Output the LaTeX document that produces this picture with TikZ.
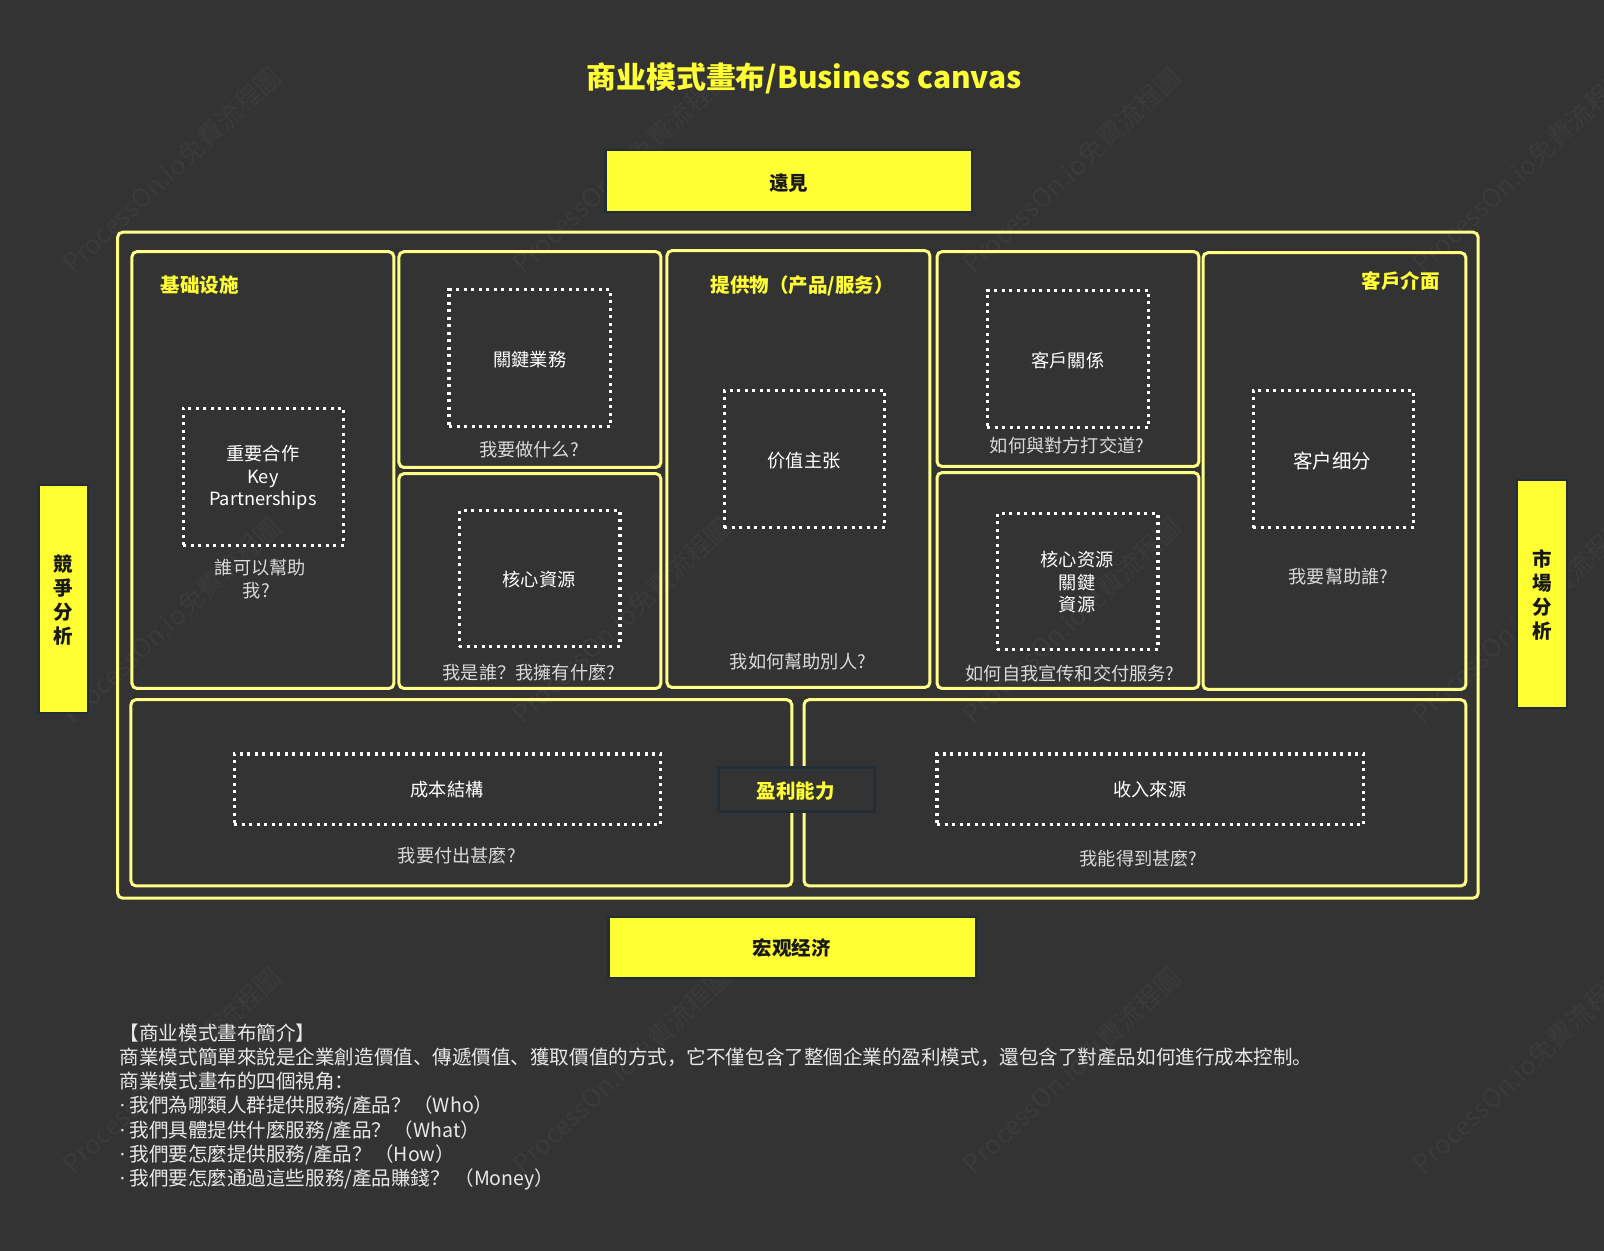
\documentclass[tikz,border=0pt]{standalone}
\usepackage{fontspec}
\setmainfont{Noto Sans CJK SC}
\newfontfamily\latfont{Open Sans}
\definecolor{bgc}{HTML}{333333}
\definecolor{framec}{HTML}{FFFF88}
\definecolor{yel}{HTML}{FFFF33}
\definecolor{edgec}{HTML}{232D36}
\definecolor{wmc}{HTML}{3B3B3B}
\definecolor{qc}{HTML}{DADADA}
\definecolor{introc}{HTML}{E8E8E8}
\newcommand{\fs}[1]{\fontsize{#1pt}{22.5pt}\selectfont}
\newcommand{\bx}[6]{%
  \pgfmathsetmacro\myw{(#5-#3)*1.02296}%
  \pgfmathsetmacro\myh{(#6-#4)*1.02296}%
  \node[#1,minimum width=\myw pt,minimum height=\myh pt] (#2) at ({(#3+#5)/2},{(#4+#6)/2}) {};}
\newcommand{\dotdata}[1]{{\latfont·}\hspace{4.5pt}#1}
\tikzset{
  x=1.02296pt,y=-1.02296pt,
  frameb/.style={draw=framec,line width=3pt,rounded corners=5pt,inner sep=0pt,outer sep=0pt},
  dotb/.style={draw=white,line width=3.2pt,dash pattern=on 3pt off 4.5pt,inner sep=0pt,outer sep=0pt},
  yelb/.style={draw=edgec,line width=2.5pt,fill=yel,inner sep=0pt,outer sep=0pt},
  profitb/.style={draw=edgec,line width=3pt,fill=bgc,inner sep=0pt,outer sep=0pt},
  inlab/.style={text=white,align=center,inner sep=0pt,font=\fs{18.2}},
  blab/.style={text=black!90,align=center,inner sep=0pt,font=\fs{19.5}\bfseries},
  qlab/.style={text=qc,align=center,inner sep=0pt,font=\fs{18.2}},
  hlab/.style={text=yel,inner sep=0pt,font=\fs{19.5}\bfseries},
  wmark/.style={text=wmc,rotate=43,inner sep=0pt,font=\fs{25.8}},
}
\begin{document}
\begin{tikzpicture}
\fill[bgc] (0,0) rectangle (1568,1222.9);
\useasboundingbox (0,0) rectangle (1568,1222.9);
% watermarks
\foreach \i in {0,1,2,3}{\foreach \j in {0,1,2}{
  \node[wmark] (wm\i\j) at ({167.6+440*\i},{166.2+440*\j}) {ProcessOn.io免費流程圖};
}}
\node[text=yel,inner sep=0pt,font=\fs{29.9}\bfseries] (title) at (786,77) {商业模式畫布/Business canvas};
\bx{yelb}{top}{592}{146.5}{950}{207}
\bx{yelb}{bottom}{595}{896.5}{954}{956}
\bx{yelb}{left}{37.5}{474}{86}{697}
\bx{yelb}{right}{1483}{469}{1532}{692}
\bx{frameb}{outer}{115}{227}{1445}{878}
\bx{frameb}{fa}{129}{246}{385}{673}
\bx{frameb}{fb}{390}{246}{646}{457}
\bx{frameb}{fc}{390}{463}{646}{673}
\bx{frameb}{fd}{652}{245}{909}{672}
\bx{frameb}{fe}{916}{246}{1172}{456}
\bx{frameb}{ff}{916}{462}{1172}{673}
\bx{frameb}{fg}{1176}{247}{1433}{674}
\bx{frameb}{fh}{128}{684}{774}{866}
\bx{frameb}{fi}{786}{684}{1433}{866}
\bx{dotb}{da}{179}{399}{336}{533}
\bx{dotb}{db}{439}{283}{597}{417}
\bx{dotb}{dc}{449}{499}{606}{632}
\bx{dotb}{dd}{708}{382}{865}{516}
\bx{dotb}{de}{965}{284}{1123}{418}
\bx{dotb}{df}{975}{502}{1132}{635}
\bx{dotb}{dg}{1225}{382}{1382}{516}
\bx{dotb}{dh}{229}{737}{646}{806}
\bx{dotb}{di}{916}{737}{1333}{806}
\bx{profitb}{profit}{702}{750}{855}{793}
\node[blab] (ltop) at (771,179.5) {遠見};
\node[blab] (lbottom) at (774,927) {宏观经济};
\node[blab] (lleft) at (62,586.5) {競\\[1.7pt]爭\\[1.7pt]分\\[1.7pt]析};
\node[blab] (lright) at (1507.5,581.5) {市\\[1.7pt]場\\[1.7pt]分\\[1.7pt]析};
\node[hlab] (lprofit) at (778,773.5) {盈利能力};
\node[inlab] (la) at (257,467) {重要合作\\Key\\Partnerships};
\node[inlab] (lb) at (518,351) {關鍵業務};
\node[inlab] (lc) at (527,566.5) {核心資源};
\node[inlab] (ld) at (786,450) {价值主张};
\node[inlab] (le) at (1044,352) {客戶關係};
\node[inlab] (lf) at (1053,569) {核心资源\\關鍵\\資源};
\node[inlab,font=\fs{19.5}] (lg) at (1302.5,451) {客户细分};
\node[inlab] (lh) at (437,772) {成本結構};
\node[inlab] (li) at (1124,772) {收入來源};
\node[hlab] (ha) at (195.5,279) {基础设施};
\node[hlab] (hd) at (784,279) {提供物（产品/服务）};
\node[hlab] (hg) at (1369.5,275) {客戶介面};
\node[qlab] (qa) at (254.5,566) {誰可以幫助\\我?\hspace*{8pt}};
\node[qlab] (qb) at (517,440) {我要做什么?};
\node[qlab] (qc) at (517,658) {我是誰？我擁有什麼?};
\node[qlab] (qd) at (780,647) {我如何幫助別人?};
\node[qlab] (qe) at (1043,436) {如何與對方打交道?};
\node[qlab] (qf) at (1046,658) {如何自我宣传和交付服务?};
\node[qlab] (qg) at (1308.5,563.5) {我要幫助誰?};
\node[qlab] (qh) at (446.5,836) {我要付出甚麼?};
\node[qlab] (qi) at (1113,839) {我能得到甚麼?};
\node[anchor=north west,inner sep=0pt,align=left,text=introc,font=\fontsize{19.55}{24.2}\selectfont] (intro) at (117,1000.5) {【商业模式畫布簡介】\\
商業模式簡單來說是企業創造價值、傳遞價值、獲取價值的方式，它不僅包含了整個企業的盈利模式，還包含了對產品如何進行成本控制。\\
商業模式畫布的四個視角：\\
\dotdata{我們為哪類人群提供服務/產品？\hspace{2.5pt}（Who）}\\
\dotdata{我們具體提供什麼服務/產品？\hspace{2.5pt}（What）}\\
\dotdata{我們要怎麼提供服務/產品？\hspace{2.5pt}（How）}\\
\dotdata{我們要怎麼通過這些服務/產品賺錢？\hspace{4.5pt}（Money）}};
\end{tikzpicture}
\end{document}
